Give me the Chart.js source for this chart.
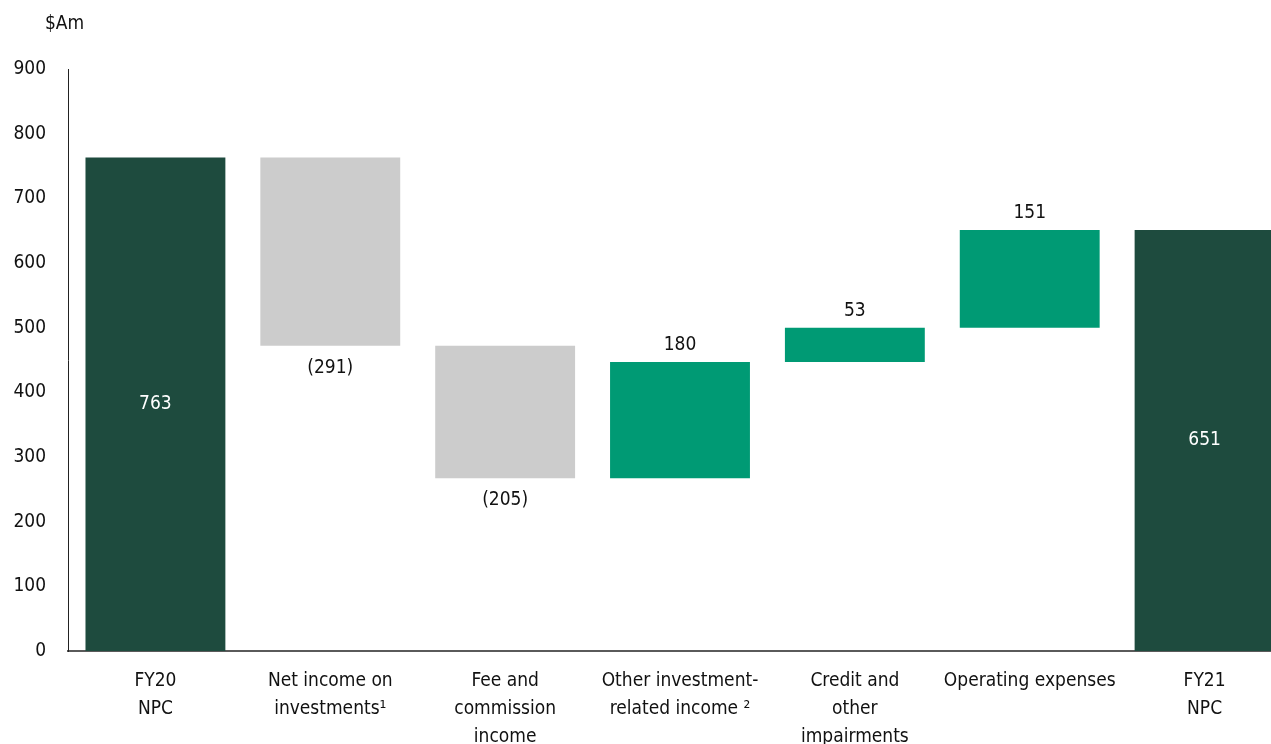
<!DOCTYPE html>
<html>
<head>
<meta charset="utf-8">
<title>NPC waterfall FY20 to FY21</title>
<script src="https://cdn.jsdelivr.net/npm/chart.js@4.4.1/dist/chart.umd.min.js"></script>
<style>
  html, body { margin: 0; padding: 0; background: #fff; overflow: hidden; }
  .chart-container { position: relative; width: 1292px; height: 744px; }
</style>
</head>
<body>
<div class="chart-container">
  <canvas id="chart"></canvas>
</div>
<script>
const categories = [
  ['FY20', 'NPC'],
  ['Net income on', 'investments\u00B9'],
  ['Fee and', 'commission', 'income'],
  ['Other investment-', 'related income \u00B2'],
  ['Credit and', 'other', 'impairments'],
  ['Operating expenses'],
  ['FY21', 'NPC'],
];
// movement of each step; first and last entries are totals
const movements = [763, -291, -205, 180, 53, 151, 651];
const isTotal = [true, false, false, false, false, false, true];
const yTicks = [0, 100, 200, 300, 400, 500, 600, 700, 800, 900];

const DARK = '#1e4b3e';
const GREY = '#cccccc';
const TEAL = '#009a74';
const FONT = '"DejaVu Sans Condensed", "Liberation Sans Narrow", sans-serif';

// build floating [low, high] ranges from the running total
let running = 0;
const ranges = movements.map((v, i) => {
  if (isTotal[i]) { running = v; return [0, v]; }
  const start = running;
  running += v;
  return [Math.min(start, running), Math.max(start, running)];
});
const colors = movements.map((v, i) => isTotal[i] ? DARK : (v < 0 ? GREY : TEAL));

const fmt = v => v < 0 ? '(' + Math.abs(v) + ')' : String(v);

const valueLabels = {
  id: 'valueLabels',
  afterDatasetsDraw(chart) {
    const { ctx } = chart;
    const meta = chart.getDatasetMeta(0);
    ctx.save();
    ctx.font = '19px ' + FONT;
    ctx.textAlign = 'center';
    ctx.textBaseline = 'middle';
    meta.data.forEach((bar, i) => {
      const v = movements[i];
      const top = Math.min(bar.y, bar.base);
      const bottom = Math.max(bar.y, bar.base);
      if (isTotal[i]) {
        ctx.fillStyle = '#ffffff';
        ctx.fillText(fmt(v), bar.x, (top + bottom) / 2);
      } else if (v < 0) {
        ctx.fillStyle = '#111';
        ctx.fillText(fmt(v), bar.x, bottom + 22);
      } else {
        ctx.fillStyle = '#111';
        ctx.fillText(fmt(v), bar.x, top - 17);
      }
    });
    // unit caption
    ctx.fillStyle = '#111';
    ctx.textAlign = 'left';
    ctx.fillText('$Am', 45, 24);
    ctx.restore();
  }
};

new Chart(document.getElementById('chart'), {
  type: 'bar',
  data: {
    labels: categories,
    datasets: [{
      data: ranges,
      backgroundColor: colors,
      borderWidth: 0,
      barPercentage: 0.8,
      categoryPercentage: 1,
    }],
  },
  options: {
    responsive: true,
    maintainAspectRatio: false,
    animation: false,
    layout: { padding: { top: 69, right: 0, left: 0, bottom: 0 } },
    plugins: {
      legend: { display: false },
      tooltip: { enabled: false },
    },
    scales: {
      x: {
        grid: { display: false, drawTicks: false },
        border: { color: '#5a5a5a', width: 2 },
        ticks: {
          color: '#111',
          font: { family: FONT, size: 19, lineHeight: '28px' },
          padding: 16,
          maxRotation: 0,
          autoSkip: false,
        },
        afterFit(scale) { scale.height = 93; },
      },
      y: {
        min: 0,
        max: 900,
        afterBuildTicks(scale) { scale.ticks = yTicks.map(v => ({ value: v })); },
        grid: { display: false, drawTicks: false },
        border: { color: '#222', width: 1 },
        ticks: {
          color: '#111',
          font: { family: FONT, size: 19 },
          padding: 22,
        },
        afterFit(scale) { scale.width = 68; },
      },
    },
  },
  plugins: [valueLabels],
});
</script>
</body>
</html>
